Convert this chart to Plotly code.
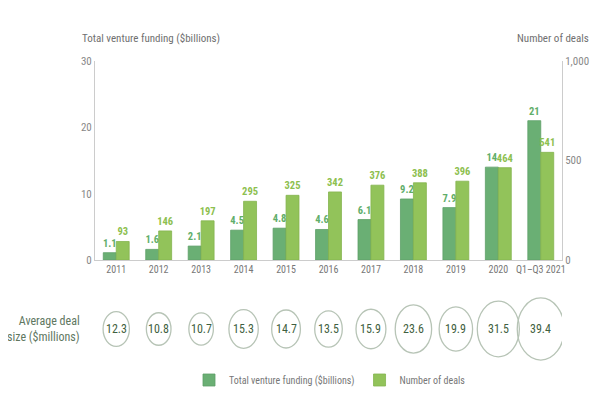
import math
import plotly.graph_objects as go

categories = ["2011", "2012", "2013", "2014", "2015", "2016", "2017", "2018", "2019", "2020", "Q1–Q3 2021"]
funding = [1.1, 1.6, 2.1, 4.5, 4.8, 4.6, 6.1, 9.2, 7.9, 14, 21]
deals = [93, 146, 197, 295, 325, 342, 376, 388, 396, 464, 541]
avg_deal = [12.3, 10.8, 10.7, 15.3, 14.7, 13.5, 15.9, 23.6, 19.9, 31.5, 39.4]
left_ticks = [0, 10, 20, 30]
right_ticks = [0, 500, 1000]

# page has an 8px body margin; the figure is sized so it fits the 600x400 window
OFF = 8
W, H = 584, 384
ML = 95 - OFF
MR = W - (562 - OFF)
MT = 61 - OFF
MB = 0
plot_w = W - ML - MR
plot_h = H - MT - MB


def py(page_y):
    return (H - (page_y - OFF)) / plot_h


def pxx(page_x):
    return (page_x - OFF - ML) / plot_w


dom0 = py(260)

FONT = "Liberation Sans Narrow, Roboto Condensed, Roboto, sans-serif"
DARK = "#6aaf74"
LIGHT = "#92c35a"

fig = go.Figure()
fig.add_trace(go.Bar(
    x=categories, y=funding, name="Total venture funding ($billions)",
    marker=dict(color=DARK, line=dict(color="#5e9f68", width=0.8)),
    offsetgroup="a", yaxis="y",
    texttemplate="%{y}", textposition="outside", cliponaxis=False, constraintext="none",
    textfont=dict(color="#5fae6a", size=10.5, family=FONT, weight="bold"),
))
fig.add_trace(go.Bar(
    x=categories, y=deals, name="Number of deals",
    marker=dict(color=LIGHT, line=dict(color="#84b44e", width=0.8)),
    offsetgroup="b", yaxis="y2",
    texttemplate="%{y}", textposition="outside", cliponaxis=False, constraintext="none",
    textfont=dict(color="#8dc04f", size=10.5, family=FONT, weight="bold"),
))

# Bubble row for average deal size
cat_px = plot_w / len(categories)
k = 7.5  # px per sqrt($m)
cy = py(329)
for i, v in enumerate(avg_deal):
    wpx = k * math.sqrt(v)
    hpx = wpx * 1.32
    wu = wpx / cat_px
    hh = hpx / plot_h
    fig.add_shape(type="circle", xref="x", yref="paper",
                  x0=i - wu / 2, x1=i + wu / 2, y0=cy - hh / 2, y1=cy + hh / 2,
                  line=dict(color="#b7c4b6", width=1.3), fillcolor="rgba(0,0,0,0)")
    fig.add_annotation(x=i, y=cy, xref="x", yref="paper", text=f"{v}", showarrow=False,
                       xanchor="center", yanchor="middle",
                       font=dict(color="#3f5f41", size=12, family=FONT))

fig.add_annotation(x=pxx(82), y=cy, xref="paper", yref="paper",
                   text="Average deal<br>size ($millions)", showarrow=False, xanchor="right",
                   yanchor="middle", align="right",
                   font=dict(color="#60775f", size=12, family=FONT))

fig.add_annotation(x=pxx(80), y=py(38), xref="paper", yref="paper",
                   text="Total venture funding ($billions)", showarrow=False, xanchor="left",
                   yanchor="middle", font=dict(color="#707070", size=11, family=FONT))
fig.add_annotation(x=pxx(591), y=py(38), xref="paper", yref="paper",
                   text="Number of deals", showarrow=False, xanchor="right",
                   yanchor="middle", font=dict(color="#707070", size=11, family=FONT))

fig.update_layout(
    width=W, height=H, margin=dict(l=ML, r=MR, t=MT, b=MB, autoexpand=False),
    paper_bgcolor="white", plot_bgcolor="white",
    barmode="group", bargap=0.39, bargroupgap=0.0,
    font=dict(family=FONT, color="#888888", size=11),
    showlegend=True,
    legend=dict(orientation="h", x=pxx(330), y=py(380),
                xanchor="center", yanchor="middle",
                font=dict(color="#777777", size=10, family=FONT),
                traceorder="normal", itemwidth=30),
    xaxis=dict(domain=[0, 1], anchor="y", showline=True, linecolor="#cccccc", linewidth=1,
               ticks="", showgrid=False, tickfont=dict(size=10, color="#777777"),
               range=[-0.5, len(categories) - 0.5], automargin=False),
    yaxis=dict(domain=[dom0, 1], range=[0, 30], tickvals=left_ticks, showgrid=False,
               showline=True, linecolor="#cccccc", linewidth=1, zeroline=False,
               ticks="", tickfont=dict(size=11, color="#888888"), automargin=False),
    yaxis2=dict(domain=[dom0, 1], range=[0, 1000], tickvals=right_ticks, tickformat=",",
                overlaying="y", side="right", showgrid=False, showline=True,
                linecolor="#cccccc", linewidth=1, zeroline=False, ticks="",
                tickfont=dict(size=11, color="#888888"), automargin=False),
)

fig.write_html("out.html")
